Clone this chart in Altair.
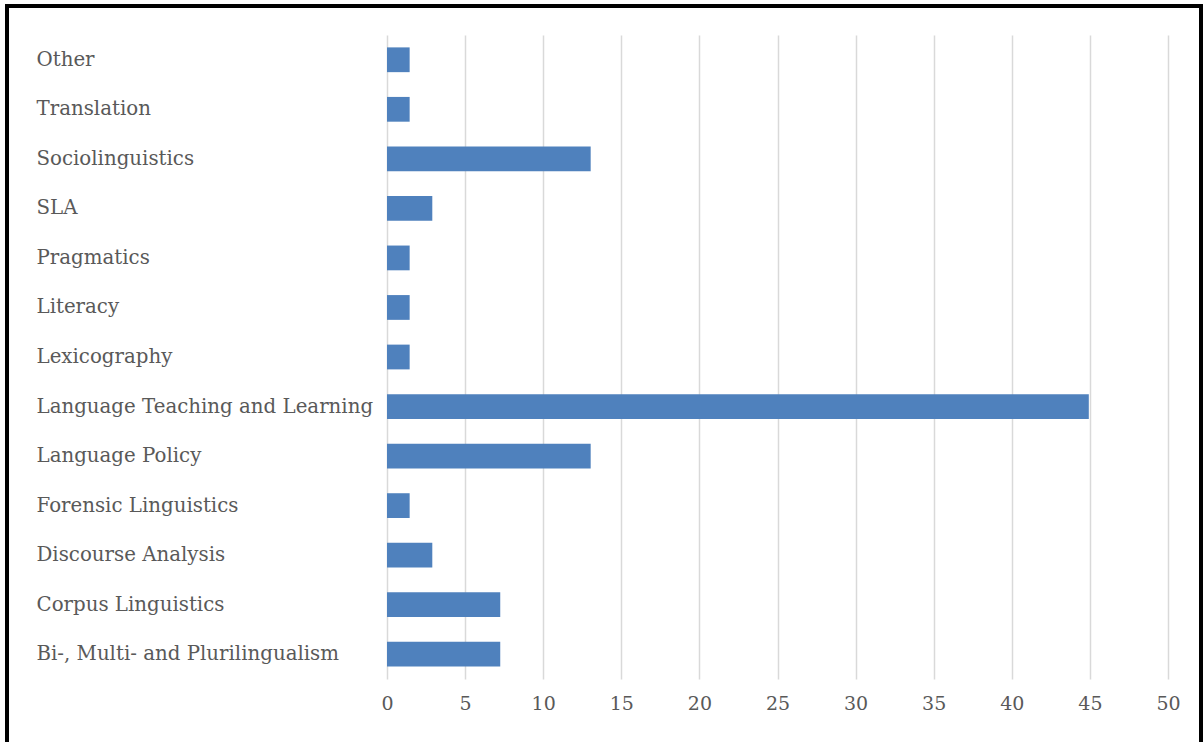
import altair as alt
import pandas as pd

categories = [
    "Other", "Translation", "Sociolinguistics", "SLA", "Pragmatics", "Literacy",
    "Lexicography", "Language Teaching and Learning", "Language Policy",
    "Forensic Linguistics", "Discourse Analysis", "Corpus Linguistics",
    "Bi-, Multi- and Plurilingualism",
]
values = [1.45, 1.45, 13.04, 2.9, 1.45, 1.45, 1.45, 44.93, 13.04, 1.45, 2.9, 7.25, 7.25]
x_ticks = list(range(0, 51, 5))

df = pd.DataFrame({"category": categories, "value": values})

FONT = "DejaVu Serif"

bars = alt.Chart(df).mark_bar(color="#4F81BD").encode(
    x=alt.X("value:Q",
            scale=alt.Scale(domain=[0, 50], nice=False),
            axis=alt.Axis(values=x_ticks, title=None, grid=True, gridColor="#D9D9D9",
                          gridWidth=1.5, domain=False, ticks=False, labelPadding=15,
                          labelFlush=False,
                          labelFontSize=19, labelFont=FONT, labelColor="#595959")),
    y=alt.Y("category:N", sort=categories,
            scale=alt.Scale(paddingInner=0.5, paddingOuter=0.25),
            axis=alt.Axis(title=None, domain=False, ticks=False, labelAlign="left",
                          labelPadding=351, labelFontSize=19.8, labelFont=FONT,
                          labelColor="#595959", labelLimit=400)),
)

frame = alt.Chart(df).mark_rect(fill=None, stroke="black", strokeWidth=3, clip=False).encode(
    x=alt.value(-380), x2=alt.value(814), y=alt.value(-29), y2=alt.value(740),
)

chart = alt.layer(bars, frame).properties(
    width=781, height=644,
    autosize=alt.AutoSizeParams(type="none"),
    padding={"left": 387, "top": 35, "right": 35, "bottom": 63},
    background="white",
).configure_view(stroke=None)

chart.save("out.html", embed_options={"renderer": "svg", "actions": False})
